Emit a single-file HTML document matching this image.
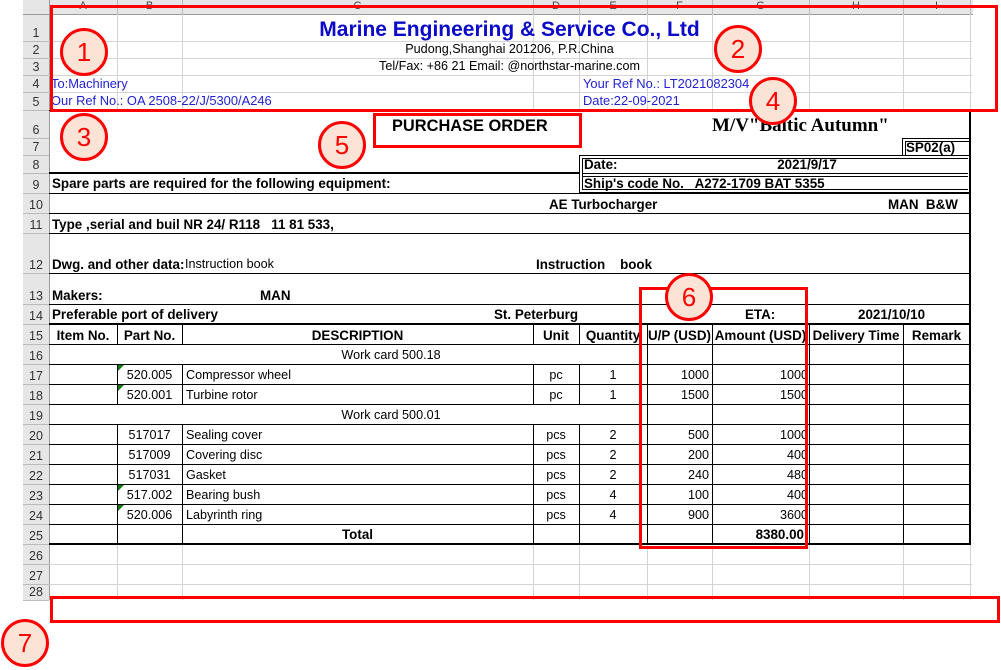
<!DOCTYPE html>
<html><head><meta charset="utf-8">
<style>
body{margin:0;width:1001px;height:670px;position:relative;background:#fff;overflow:hidden;font-family:"Liberation Sans",Arial,sans-serif;font-size:12.6px;color:#000}
.a{position:absolute;white-space:nowrap;line-height:1}
.hl{position:absolute;height:1px;background:#d4d4d4}
.vl{position:absolute;width:1px;background:#d4d4d4}
.bl{position:absolute;background:#000}
.b{font-weight:bold;font-size:13.4px}
.blue{color:#1f1fd6;font-size:12.9px}
.circ{position:absolute;width:42px;height:42px;border:3px solid #f00;border-radius:50%;background:#fbe3d6;color:#f00;font-size:26px;text-align:center;line-height:42px}
.rbox{position:absolute;border:3px solid #f00;box-sizing:border-box}
</style></head><body>
<div id="g"></div>
<script>
const colEdges=[49,117,182,533,579,647,712,809,903,970];
const colNames=["A","B","C","D","E","F","G","H","I"];
const rowEdges=[14,41,58,75,92,110,138,155,173,193,213,233,273,304,324,344,364,384,404,424,444,464,484,504,524,544,564,584,600];
const g=document.getElementById('g');
function mk(cls,st,txt){const d=document.createElement('div');d.className=cls;d.style.cssText=st;if(txt!==undefined)d.textContent=txt;g.appendChild(d);return d;}
let h=mk('a','left:23px;top:0;width:950px;height:14px;background:#e6e6e6');

h=mk('a','left:23px;top:0;width:26px;height:600px;background:#e6e6e6');

colNames.forEach((n,i)=>{const c=mk('a',`left:${colEdges[i]}px;top:1px;width:${colEdges[i+1]-colEdges[i]}px;text-align:center;font-size:11px;color:#444`,n);


mk('vl',`left:${colEdges[i+1]}px;top:0;height:14px;background:#bbb`);});
for(let i=0;i<rowEdges.length-1;i++){const b=rowEdges[i+1];
const r=mk('a',`left:23px;top:${b-14}px;width:26px;text-align:center;font-size:12.5px;color:#333`,String(i+1));


mk('hl',`left:23px;top:${b}px;width:26px;background:#bbb`);}
mk('vl','left:49px;top:0;height:600px;background:#999');
mk('hl','left:23px;top:14px;width:950px;background:#999');
[41,58,75,92,110,564,584].forEach(y=>mk('hl',`left:49px;top:${y}px;width:923px`));
colEdges.slice(1).forEach(x=>{mk('vl',`left:${x}px;top:14px;height:96px`);mk('vl',`left:${x}px;top:544px;height:56px`);});
function H(x1,x2,y,w){mk('bl',`left:${x1}px;top:${y}px;width:${x2-x1}px;height:${w||1}px`);}
function V(x,y1,y2,w){mk('bl',`left:${x}px;top:${y1}px;width:${w||1}px;height:${y2-y1}px`);}
H(49,971,110);H(49,579,172,2);H(579,971,155);H(582,968,158);H(582,968,173);H(582,968,176);H(579,971,192);H(582,968,189);
V(579,155,193);V(582,158,190);
H(902,971,138);H(905,971,141);V(902,138,155);V(905,141,155);
H(49,971,193);H(49,971,213);H(49,971,233);H(49,971,273);H(49,971,304);H(49,971,323,2);
for(let y=344;y<=524;y+=20)H(49,971,y);H(49,971,543,2);
V(969,110,545,2);
[117,182,533,579,647,712,809,903].forEach(x=>{V(x,324,344);});
[117,182,533,579,647,712,809,903].forEach(x=>{[[364,404],[424,544]].forEach(s=>V(x,s[0],s[1]));});
[647,712,809,903].forEach(x=>V(x,344,364));[647,712,809,903].forEach(x=>V(x,404,424));
function T(x,y,txt,cls,w,al,name){const d=mk('a '+(cls||''),`left:${x}px;top:${y}px;${w?`width:${w}px;text-align:${al||'center'};`:''}`,txt);return d;}
T(49,19,'Marine Engineering & Service Co., Ltd','b',921,'center','company-title').style.cssText+='font-size:21px;color:#0a0ac8';
T(49,43,'Pudong,Shanghai 201206, P.R.China','',921,'center','company-address');
T(49,60,'Tel/Fax: +86 21 Email: @northstar-marine.com','',921,'center','company-contact');
T(51,78,'To:Machinery','blue',0,0,'to-field');
T(51,95,'Our Ref No.: OA 2508-22/J/5300/A246','blue',0,0,'our-ref');
T(583,78,'Your Ref No.: LT2021082304','blue',0,0,'your-ref');
T(583,95,'Date:22-09-2021','blue',0,0,'header-date');
T(392,118,'PURCHASE ORDER','b',0,0,'purchase-order-title').style.fontSize='16.4px';
T(712,116,'M/V"Baltic Autumn"','b',0,0,'vessel-name').style.cssText+='font-family:"Liberation Serif",serif;font-size:19px';
T(906,141,'SP02(a)','b',0,0,'sp-code');
T(584,158,'Date:','b',0,0,'date-label');T(712,158,'2021/9/17','b',190,'center','date-value');
T(584,177,"Ship's code No.   A272-1709 BAT 5355",'b',0,0,'ships-code').style.whiteSpace='pre';
T(52,177,'Spare parts are required for the following equipment:','b',0,0,'equipment-label');
T(549,198,'AE Turbocharger','b',0,0,'equipment-name');T(888,198,'MAN  B&W','b',0,0,'maker-brand').style.whiteSpace='pre';
T(52,218,'Type ,serial and buil NR 24/ R118   11 81 533,','b',0,0,'type-serial').style.whiteSpace='pre';
T(52,258,'Dwg. and other data:','b',0,0,'dwg-label');T(185,258,'Instruction book','',0,0,'dwg-value');
T(536,258,'Instruction    book','b',0,0,'dwg-value-2').style.whiteSpace='pre';
T(52,289,'Makers:','b',0,0,'makers-label');T(260,289,'MAN','b',0,0,'makers-value');
T(52,308,'Preferable port of delivery','b',0,0,'port-label');T(494,308,'St. Peterburg','b',0,0,'port-value');
T(745,308,'ETA:','b',0,0,'eta-label');T(858,308,'2021/10/10','b',0,0,'eta-value');
const heads=["Item No.","Part No.","DESCRIPTION","Unit","Quantity","U/P (USD)","Amount (USD)","Delivery Time","Remark"];
heads.forEach((t,i)=>T(colEdges[i],329,t,'b',colEdges[i+1]-colEdges[i],'center','column-heading'));
const parts=[null,"520.005","520.001",null,"517017","517009","517031","517.002","520.006"];
const descs=["Work card 500.18","Compressor wheel","Turbine rotor","Work card 500.01","Sealing cover","Covering disc","Gasket","Bearing bush","Labyrinth ring"];
const units=[null,"pc","pc",null,"pcs","pcs","pcs","pcs","pcs"];
const qtys=[null,1,1,null,2,2,2,4,4];
const ups=[null,1000,1500,null,500,200,240,100,900];
parts.forEach((p,i)=>{const y=349+i*20;
if(p===null){T(49,y,descs[i],'',684,'center','work-card-heading');return;}
T(117,y,p,'',65,'center','part-number');
const tri=mk('a',`left:118px;top:${y-4}px;width:0;height:0;border-top:6px solid #107c10;border-right:6px solid transparent`);
if(p.indexOf('.')<0)tri.style.display='none';


T(186,y,descs[i],'',0,0,'description');
T(533,y,units[i],'',46,'center','unit');
T(579,y,String(qtys[i]),'',68,'center','quantity');
T(647,y,String(ups[i]),'',62,'right','unit-price');
T(712,y,String(ups[i]*qtys[i]),'',96,'right','amount');});
T(182,528,'Total','b',351,'center','total-label');
let tot=0;ups.forEach((u,i)=>{if(u)tot+=u*qtys[i];});
T(712,528,tot.toFixed(2),'b',92,'right','total-amount');
</script>
<div class="rbox" style="left:50px;top:5px;width:948px;height:107px"></div>
<div class="rbox" style="left:373px;top:113px;width:209px;height:35px"></div>
<div class="rbox" style="left:639px;top:287px;width:169px;height:262px"></div>
<div class="rbox" style="left:50px;top:596px;width:950px;height:27px"></div>
<div class="circ" style="left:60px;top:28px">1</div>
<div class="circ" style="left:714px;top:25px">2</div>
<div class="circ" style="left:60px;top:113px">3</div>
<div class="circ" style="left:749px;top:77px">4</div>
<div class="circ" style="left:318px;top:121px">5</div>
<div class="circ" style="left:665px;top:273px">6</div>
<div class="circ" style="left:1px;top:619px">7</div>
</body></html>
